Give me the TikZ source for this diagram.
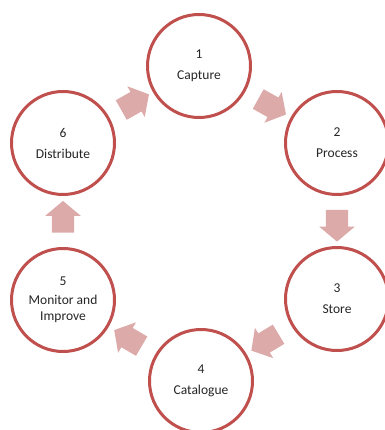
\documentclass[tikz,border=0pt]{standalone}
\usepackage{fontspec}
\setsansfont{Carlito}
\usetikzlibrary{shapes.arrows}

\definecolor{ringred}{HTML}{C0504D}
\definecolor{flowpink}{HTML}{DDAAAA}
\definecolor{labelgrey}{HTML}{262626}

\begin{document}
\begin{tikzpicture}[
    x=1pt, y=-1pt,
    font=\sffamily\fontsize{13.5}{16}\selectfont,
    stage/.style={circle, draw=ringred, line width=3pt, fill=white,
        minimum size=103pt, align=center, inner sep=0pt, text=labelgrey},
    flow/.style={single arrow, fill=flowpink, draw=none,
        minimum height=29pt, minimum width=35pt, inner sep=11pt,
        single arrow head extend=6.5pt, single arrow tip angle=100,
        sloped, allow upside down},
]

\useasboundingbox (0,0) rectangle (384,430);

\node[stage] (capture)    at (199,66)  {1\\[5pt]Capture};
\node[stage] (process)    at (337,143) {2\\[5pt]Process};
\node[stage] (store)      at (337,299) {3\\[5pt]Store};
\node[stage] (catalogue)  at (201,381) {4\\[5pt]Catalogue};
\node[stage] (monitor)    at (63,300)  {5\\[3pt]Monitor and\\Improve};
\node[stage] (distribute) at (63,143)  {6\\[5pt]Distribute};

\path (capture)    -- node[flow] (f12) {} (process);
\path (process)    -- node[flow] (f23) {} (store);
\path (store)      -- node[flow] (f34) {} (catalogue);
\path (catalogue)  -- node[flow] (f45) {} (monitor);
\path (monitor)    -- node[flow] (f56) {} (distribute);
\path (distribute) -- node[flow] (f61) {} (capture);

\end{tikzpicture}
\end{document}
